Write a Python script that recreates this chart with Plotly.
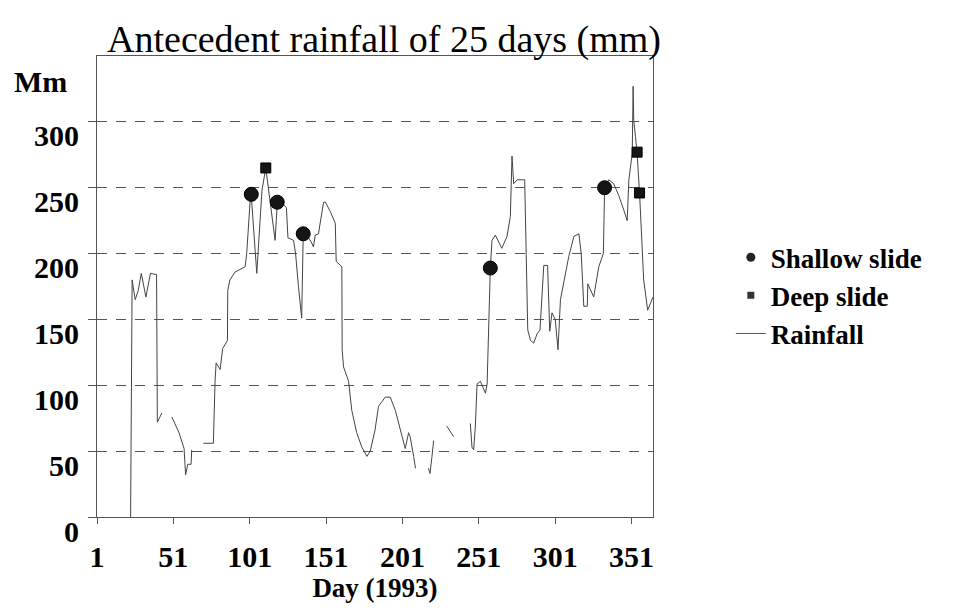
import plotly.graph_objects as go

# ---- data ----
rain_days = [23, 24, 26, 28, 30, 33, 36, 38.5, 40, 40.5, 43.5, 44.5,
             50, 54.7, 58, 59, 60.4, 62.6, 63, 66,
             70.6, 77.2, 78.3, 79, 81.6, 83.3, 86.4, 86.6, 88, 91.4, 98, 99, 101.3, 102,
             105.6, 109, 111.5, 117.6, 119, 121, 125, 126, 129.7, 131, 132.9, 135, 136,
             139.5, 141.6, 142.7, 143.9, 146, 149.3, 150.5, 153.7, 157, 157.6, 161.3, 161.5,
             162.4, 165.7, 167.8, 171, 174.4, 177.7, 179.9, 183, 185.3, 189.7, 193, 196.3,
             199.6, 202.8, 205, 206, 208.3, 209.5, 213,
             218, 219, 220.3, 221.4, 225,
             230, 234.5, 240,
             245.4, 246.5, 247.6, 248.7, 249.8, 252, 255.3, 256.4, 258.5, 259.6, 261.8,
             266, 269.4, 271.6, 272.7, 273.8, 276, 281, 283, 284.8, 286.9, 289.1, 291,
             293.5, 296, 297.4, 298.9, 301, 302.8, 304, 304.4, 309.9, 313.2, 316.5, 318,
             319.7, 322, 322.3, 326.2, 329.5, 332.5, 333.3, 336, 339.3, 342.6, 345.9, 348.1,
             349.2, 351.4, 352, 352.4, 353.5, 354.6, 356.2, 357, 357.8, 358.9, 361.5, 363.2,
             365]
rain_mm = [0, 180, 165, 172, 185, 167, 185, 184, 184, 72, 79, None,
           76, 64, 52, 32, 40, 40, 51, None,
           56, 56, 103, 117, 112, 128, 134, 172, 180, 186, 190, 200, 241, 244,
           185, 248, 265, 210, 238, 239, 235, 212, 210, 200, 175, 151, 214,
           212, 208, 205, 214, 215, 239, 239, 232, 223, 194, 190, 127,
           114, 103, 81, 64, 53, 46, 50, 66, 84, 91, 91, 81,
           66, 52, 64, 61, 46, 37, None,
           37, 33, 46, 58, None,
           69, 61, None,
           71, 53, 51, 69, 101, 103, 94, 101, 189, 210, 214,
           204, 213, 228, 274, 253, 256, 256, 142, 134, 132, 139, 142,
           191, 191, 141, 155, 150, 127, 150, 165, 198, 213, 215, 200,
           160, 160, 177, 167, 190, 200, 249, 256, 253, 244, 233, 225,
           256, 276, 327, 301, 289, 276, 246, 225, 200, 180, 157, 162,
           167]

shallow_days = [102, 119, 136, 258.5, 333.3]
shallow_mm = [245, 239, 215, 189, 250]
deep_days = [111.5, 354.6, 356.2]
deep_mm = [265, 277, 246]

x_ticks = [1, 51, 101, 151, 201, 251, 301, 351]
y_ticks = [0, 50, 100, 150, 200, 250, 300]

SERIF = "Liberation Serif"

fig = go.Figure()

fig.add_trace(go.Scatter(
    x=rain_days, y=rain_mm, mode="lines", name="Rainfall",
    line=dict(color="#444444", width=1), connectgaps=False, showlegend=False))
fig.add_trace(go.Scatter(
    x=shallow_days, y=shallow_mm, mode="markers", name="Shallow slide",
    marker=dict(symbol="circle", size=14, color="#151515",
                line=dict(color="#000", width=1)), showlegend=False))
fig.add_trace(go.Scatter(
    x=deep_days, y=deep_mm, mode="markers", name="Deep slide",
    marker=dict(symbol="square", size=10, color="#151515",
                line=dict(color="#000", width=1)), showlegend=False))

# legend entries (no data, legend glyphs only)
fig.add_trace(go.Scatter(x=[None], y=[None], mode="markers", name="<b>Shallow slide</b>",
                         marker=dict(symbol="circle", size=9, color="#222")))
fig.add_trace(go.Scatter(x=[None], y=[None], mode="markers", name="<b>Deep slide</b>",
                         marker=dict(symbol="square", size=7, color="#333")))
fig.add_trace(go.Scatter(x=[None], y=[None], mode="lines", name="<b>Rainfall</b>",
                         line=dict(color="#555", width=1)))

fig.update_layout(
    width=958, height=613,
    margin=dict(l=89, r=313, t=48, b=104, autoexpand=False),
    paper_bgcolor="white", plot_bgcolor="white",
    font=dict(family=SERIF, color="black"),
    title=dict(text="Antecedent rainfall of 25 days (mm)", automargin=False,
               x=0.3925, xanchor="center", y=0.95, yanchor="middle",
               font=dict(family=SERIF, size=38, color="black")),
    xaxis=dict(range=[1, 365], tickvals=x_ticks, ticktext=["<b>%d</b>" % v for v in x_ticks],
               automargin=False,
               showgrid=False, zeroline=False,
               showline=True, linecolor="#555", linewidth=1, mirror=True,
               ticks="outside", ticklen=6, tickcolor="#555",
               ticklabelstandoff=7,
               tickfont=dict(family=SERIF, size=30, color="black"),
               title=dict(text="<b>Day (1993)</b>", standoff=2,
                          font=dict(family=SERIF, size=27, color="black"))),
    yaxis=dict(range=[0, 350], tickvals=y_ticks, ticktext=["<b>%d</b>" % v for v in y_ticks],
               automargin=False,
               showgrid=True, gridcolor="#555", gridwidth=1, griddash="10px,9px",
               zeroline=False,
               showline=True, linecolor="#555", linewidth=1, mirror=True,
               ticks="outside", ticklen=8, tickcolor="#555",
               ticklabelshift=14, ticklabelstandoff=3,
               tickfont=dict(family=SERIF, size=30, color="black")),
    legend=dict(x=1.14, xanchor="left", y=0.48, yanchor="middle",
                font=dict(family=SERIF, size=27, color="black"),
                bgcolor="rgba(0,0,0,0)", itemwidth=30, tracegroupgap=0),
    annotations=[dict(text="<b>Mm</b>", xref="paper", yref="paper",
                      x=-0.1025, y=0.945, xanchor="center", yanchor="middle",
                      showarrow=False,
                      font=dict(family=SERIF, size=30, color="black"))],
)

fig.write_html("out.html")
